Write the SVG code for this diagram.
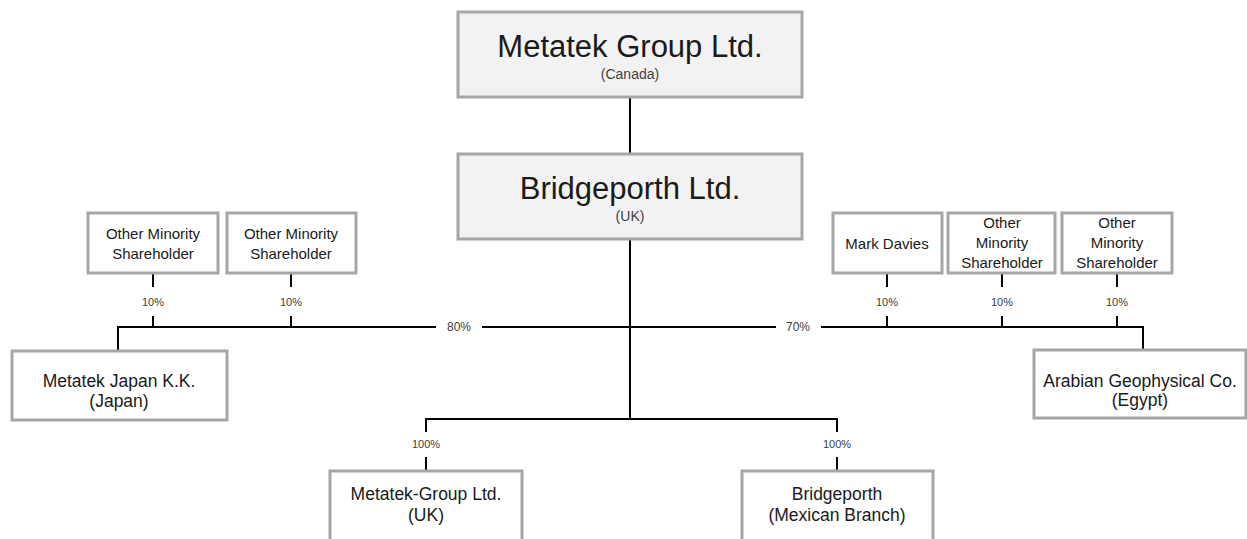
<svg xmlns="http://www.w3.org/2000/svg" width="1247" height="539" viewBox="0 0 1247 539">
<style>
.box{fill:#ffffff;stroke:#a6a6a6;stroke-width:3}
.main{fill:#f2f2f2;stroke:#a6a6a6;stroke-width:3}
.t{font-family:"Liberation Sans",Arial,sans-serif;fill:#1a1a1a;text-anchor:middle}
.title{font-size:31px}
.sub{font-size:14px;fill:#404040}
.sm{font-size:15px}
.md{font-size:17.5px}
.pct{font-family:"Liberation Sans",Arial,sans-serif;font-size:11px;fill:#404040;text-anchor:middle}
.pct2{font-family:"Liberation Sans",Arial,sans-serif;font-size:12px;fill:#404040;text-anchor:middle}
.ln{fill:none;stroke:#000000;stroke-width:2}
</style>
<rect width="1247" height="539" fill="#ffffff"/>
<g id="connectors">
<path class="ln" d="M630 97V154"/>
<path class="ln" d="M630 239V419"/>
<path class="ln" d="M426 432V419H837V432"/>
<path class="ln" d="M426 457V471"/>
<path class="ln" d="M837 457V471"/>
<path class="ln" d="M118 351V327H436"/>
<path class="ln" d="M482 327H776"/>
<path class="ln" d="M821 327H1143V350"/>
<path class="ln" d="M153 274V287M153 316V327"/>
<path class="ln" d="M291 274V287M291 316V327"/>
<path class="ln" d="M887 274V287M887 316V327"/>
<path class="ln" d="M1002 274V287M1002 316V327"/>
<path class="ln" d="M1117 274V287M1117 316V327"/>
<text class="pct" x="153" y="306">10%</text>
<text class="pct" x="291" y="306">10%</text>
<text class="pct" x="887" y="306">10%</text>
<text class="pct" x="1002" y="306">10%</text>
<text class="pct" x="1117" y="306">10%</text>
<text class="pct2" x="459" y="331">80%</text>
<text class="pct2" x="798" y="331">70%</text>
<text class="pct" x="426" y="448">100%</text>
<text class="pct" x="837" y="448">100%</text>
</g>
<g id="metatek-group-canada">
<rect class="main" x="458" y="12" width="344" height="85"/>
<text class="t title" x="630" y="57">Metatek Group Ltd.</text>
<text class="t sub" x="630" y="79">(Canada)</text>
</g>
<g id="bridgeporth-uk">
<rect class="main" x="458" y="154" width="344" height="85"/>
<text class="t title" x="630" y="199">Bridgeporth Ltd.</text>
<text class="t sub" x="630" y="221">(UK)</text>
</g>
<g id="minority-left-1">
<rect class="box" x="88" y="213" width="130" height="60"/>
<text class="t sm" x="153" y="239">Other Minority</text>
<text class="t sm" x="153" y="259">Shareholder</text>
</g>
<g id="minority-left-2">
<rect class="box" x="227" y="213" width="129" height="60"/>
<text class="t sm" x="291" y="239">Other Minority</text>
<text class="t sm" x="291" y="259">Shareholder</text>
</g>
<g id="mark-davies">
<rect class="box" x="833" y="213" width="109" height="60"/>
<text class="t sm" x="887" y="249">Mark Davies</text>
</g>
<g id="minority-right-1">
<rect class="box" x="948" y="213" width="107" height="60"/>
<text class="t sm" x="1002" y="228">Other</text>
<text class="t sm" x="1002" y="248">Minority</text>
<text class="t sm" x="1002" y="268">Shareholder</text>
</g>
<g id="minority-right-2">
<rect class="box" x="1062" y="213" width="110" height="60"/>
<text class="t sm" x="1117" y="228">Other</text>
<text class="t sm" x="1117" y="248">Minority</text>
<text class="t sm" x="1117" y="268">Shareholder</text>
</g>
<g id="metatek-japan">
<rect class="box" x="12" y="351" width="215" height="69"/>
<text class="t md" x="119" y="387">Metatek Japan K.K.</text>
<text class="t md" x="119" y="407">(Japan)</text>
</g>
<g id="arabian-geophysical">
<rect class="box" x="1034" y="350" width="212" height="68"/>
<text class="t md" x="1140" y="387">Arabian Geophysical Co.</text>
<text class="t md" x="1140" y="406">(Egypt)</text>
</g>
<g id="metatek-group-uk">
<rect class="box" x="330" y="471" width="192" height="80"/>
<text class="t md" x="426" y="500">Metatek-Group Ltd.</text>
<text class="t md" x="426" y="521">(UK)</text>
</g>
<g id="bridgeporth-mexican-branch">
<rect class="box" x="742" y="471" width="191" height="80"/>
<text class="t md" x="837" y="500">Bridgeporth</text>
<text class="t md" x="837" y="521">(Mexican Branch)</text>
</g>
</svg>
